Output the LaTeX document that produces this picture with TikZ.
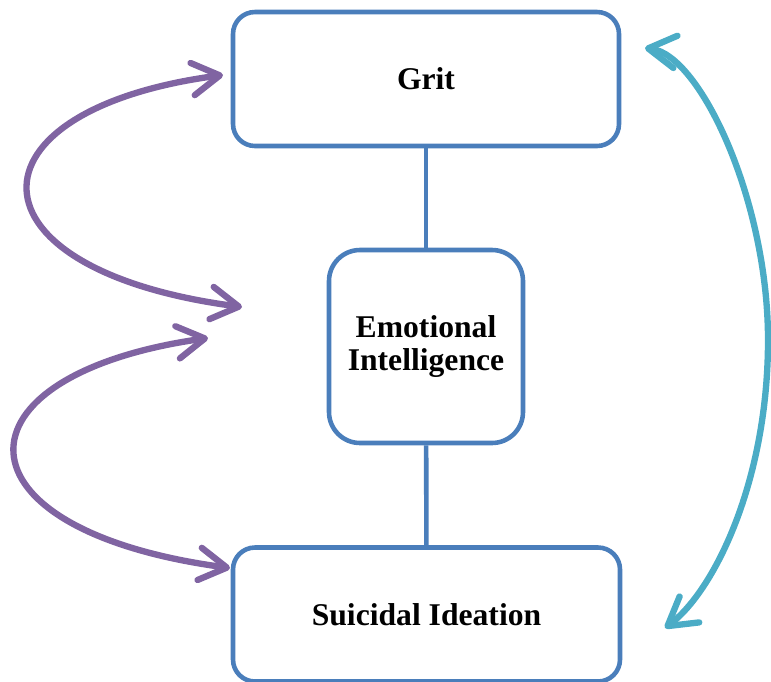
\documentclass[tikz,border=0pt]{standalone}
\usepackage{fontspec}
\setmainfont{Liberation Serif}
\usetikzlibrary{arrows.meta}
\definecolor{boxblue}{RGB}{74,126,187}
\definecolor{linkpurple}{RGB}{128,100,162}
\definecolor{linkteal}{RGB}{75,172,198}

\begin{document}
\begin{tikzpicture}[
        varbox/.style={draw=boxblue, line width=2.6pt, fill=white, align=center,
            font=\fontsize{18}{19}\selectfont\bfseries},
        link/.style={line width=3.6pt, line cap=round,
            {Straight Barb[length=0.55cm, width=0.65cm, round]}-{Straight Barb[length=0.55cm, width=0.65cm, round]}}
    ]
        \useasboundingbox (0,0) rectangle (15.42,-13.62);

        \node[varbox, minimum width=7.72cm, minimum height=2.68cm, rounded corners=0.44cm] (grit) at (8.52,-1.58) {Grit};
        \node[varbox, minimum width=3.88cm, minimum height=3.86cm, rounded corners=0.62cm] (ei) at (8.52,-6.93) {Emotional\\Intelligence};
        \node[varbox, minimum width=7.74cm, minimum height=2.68cm, rounded corners=0.44cm] (si) at (8.53,-12.29) {Suicidal Ideation};

        \draw [boxblue, line width=2.6pt] (grit) -- (ei);
        \draw [boxblue, line width=2.6pt] (ei) -- (si);

        % free ends of the curved arrows
        \coordinate (gritL) at (4.46,-1.50);
        \coordinate (eiUp) at (4.84,-6.14);
        \coordinate (eiLow) at (4.16,-6.76);
        \coordinate (siL) at (4.60,-11.36);
        \coordinate (gritR) at (12.90,-0.96);
        \coordinate (siR) at (13.30,-12.56);

        \draw [link, linkpurple] (gritL) .. controls (-0.8,-2.2) and (-0.8,-5.4) .. (eiUp);
        \draw [link, linkpurple] (eiLow) .. controls (-1.06,-7.5) and (-1.06,-10.6) .. (siL);
        \draw [link, linkteal] (gritR) .. controls (14.0,-1.1) and (15.36,-4.0) .. (15.36,-6.8)
            .. controls (15.36,-9.6) and (14.3,-11.8) .. (siR);
    \end{tikzpicture}
\end{document}
